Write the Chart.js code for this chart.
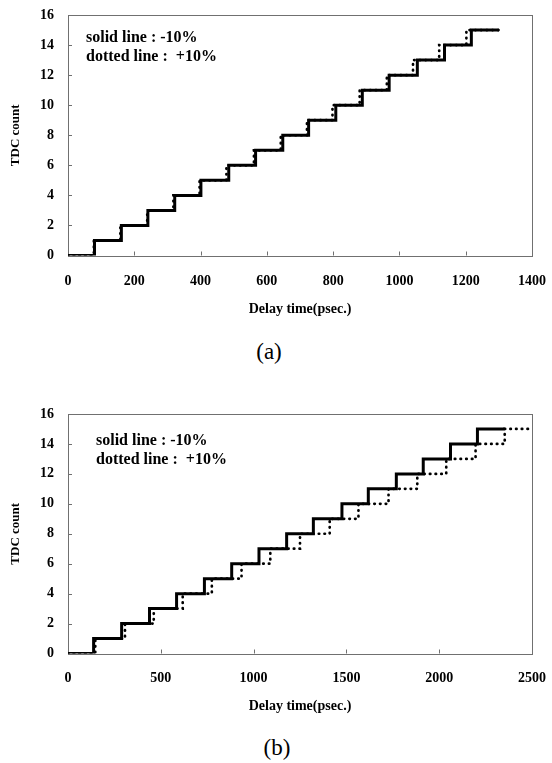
<!DOCTYPE html>
<html>
<head>
<meta charset="utf-8">
<script src="https://cdn.jsdelivr.net/npm/chart.js@4.4.1/dist/chart.umd.min.js"></script>
<style>
  body { margin: 0; background: #fff; width: 552px; height: 763px; position: relative; overflow: hidden; font-family: "Liberation Serif", serif; }
  .box { position: absolute; left: 0; width: 552px; height: 325px; }
  #boxA { top: 0; }
  #boxB { top: 400px; }
  .cap { position: absolute; font-size: 23px; transform: translate(-50%, -50%); }
</style>
</head>
<body>
<div class="box" id="boxA"><canvas id="chartA"></canvas></div>
<div class="box" id="boxB"><canvas id="chartB"></canvas></div>
<div class="cap" style="left:269px; top:352px">(a)</div>
<div class="cap" style="left:277px; top:748px">(b)</div>
<script>
// TDC count reached after each step (start, 15 steps, end)
const tdcCount = [0, 1, 2, 3, 4, 5, 6, 7, 8, 9, 10, 11, 12, 13, 14, 15, 15];

// (a) delay time (psec.) where each step happens
const aSolidX  = [0, 80, 161, 241, 322, 401, 485, 566, 648, 726, 808, 888, 969, 1054, 1136, 1217, 1300];
const aDottedX = [0, 78, 158, 239, 318, 397, 478, 561, 642, 721, 798, 880, 962, 1041, 1120, 1202, 1300];
const aXTicks  = [0, 200, 400, 600, 800, 1000, 1200, 1400];

// (b)
const bSolidX  = [0, 138, 289, 439, 585, 735, 882, 1029, 1178, 1322, 1476, 1618, 1769, 1914, 2061, 2206, 2353];
const bDottedX = [0, 147, 307, 462, 618, 775, 935, 1090, 1250, 1410, 1565, 1727, 1882, 2038, 2196, 2353, 2500];
const bXTicks  = [0, 500, 1000, 1500, 2000, 2500];

const yTicks = [0, 2, 4, 6, 8, 10, 12, 14, 16];
const noteLines = ['solid line : -10%', 'dotted line :  +10%'];

const serif = 'Liberation Serif';

// grey frame round the plot, with short inside tick marks
const frameTicks = {
    id: 'frameTicks',
    beforeDatasetsDraw(chart) {
        const { ctx, chartArea: a, scales: { x, y } } = chart;
        ctx.save();
        ctx.strokeStyle = '#707070';
        ctx.lineWidth = 1;
        ctx.strokeRect(Math.round(a.left) + 0.5, Math.round(a.top) + 0.5,
            Math.round(a.right - a.left), Math.round(a.bottom - a.top));
        ctx.beginPath();
        x.ticks.forEach(t => {
            const px = Math.round(x.getPixelForValue(t.value)) + 0.5;
            ctx.moveTo(px, a.bottom);
            ctx.lineTo(px, a.bottom - 4);
        });
        y.ticks.forEach(t => {
            const py = Math.round(y.getPixelForValue(t.value)) + 0.5;
            ctx.moveTo(a.left, py);
            ctx.lineTo(a.left + 4, py);
        });
        ctx.stroke();
        ctx.restore();
    }
};

const note = {
    id: 'note',
    afterDraw(chart, args, opts) {
        const ctx = chart.ctx;
        ctx.save();
        ctx.font = 'bold 16px "' + serif + '"';
        ctx.fillStyle = '#000';
        ctx.textBaseline = 'middle';
        noteLines.forEach((t, i) => ctx.fillText(t, opts.x, opts.y + i * 19));
        ctx.restore();
    }
};

function toPoints(xs) {
    return xs.map((x, i) => ({ x: x, y: tdcCount[i] }));
}

function makeChart(id, solidX, dottedX, xTicks, g) {
    const ctx = document.getElementById(id).getContext('2d');
    return new Chart(ctx, {
        type: 'line',
        data: {
            datasets: [{
                label: 'solid line : -10%',
                data: toPoints(solidX),
                borderColor: '#000',
                borderWidth: 3,
                stepped: true,
                pointRadius: 0,
                fill: false
            }, {
                label: 'dotted line : +10%',
                data: toPoints(dottedX),
                borderColor: '#000',
                borderWidth: 2.7,
                borderDash: [0.5, 5.2],
                borderCapStyle: 'round',
                stepped: true,
                pointRadius: 0,
                fill: false
            }]
        },
        options: {
            responsive: true,
            maintainAspectRatio: false,
            animation: false,
            layout: { padding: { top: g.top, right: 20, left: 0, bottom: 0 } },
            plugins: {
                legend: { display: false },
                tooltip: { enabled: false },
                note: { x: g.noteX, y: g.noteY }
            },
            scales: {
                x: {
                    type: 'linear',
                    min: xTicks[0],
                    max: xTicks[xTicks.length - 1],
                    afterBuildTicks: s => { s.ticks = xTicks.map(v => ({ value: v })); },
                    afterFit: s => { s.height = g.xHeight; s.paddingLeft = 0; s.paddingRight = 0; },
                    grid: { display: false, drawTicks: false },
                    border: { display: false },
                    ticks: {
                        padding: g.xPad,
                        color: '#000',
                        maxRotation: 0,
                        callback: v => String(v),
                        font: { family: serif, size: 14, weight: 'bold' }
                    },
                    title: {
                        display: true,
                        text: 'Delay time(psec.)',
                        color: '#000',
                        padding: { top: 0, bottom: g.titlePad },
                        font: { family: serif, size: 14, weight: 'bold' }
                    }
                },
                y: {
                    min: 0,
                    max: 16,
                    afterBuildTicks: s => { s.ticks = yTicks.map(v => ({ value: v })); },
                    afterFit: s => { s.width = 68; s.paddingTop = 0; s.paddingBottom = 0; },
                    grid: { display: false, drawTicks: false },
                    border: { display: false },
                    ticks: {
                        padding: 14,
                        color: '#000',
                        callback: v => String(v),
                        font: { family: serif, size: 14, weight: 'bold' }
                    },
                    title: {
                        display: true,
                        text: 'TDC count',
                        color: '#000',
                        padding: { top: 8, bottom: 0 },
                        font: { family: serif, size: 13, weight: 'bold' }
                    }
                }
            }
        },
        plugins: [frameTicks, note]
    });
}

makeChart('chartA', aSolidX, aDottedX, aXTicks,
    { top: 15, xHeight: 69.5, xPad: 17, titlePad: 7, noteX: 86, noteY: 38 });
makeChart('chartB', bSolidX, bDottedX, bXTicks,
    { top: 14, xHeight: 71.5, xPad: 16, titlePad: 10, noteX: 96, noteY: 41 });
</script>
</body>
</html>
